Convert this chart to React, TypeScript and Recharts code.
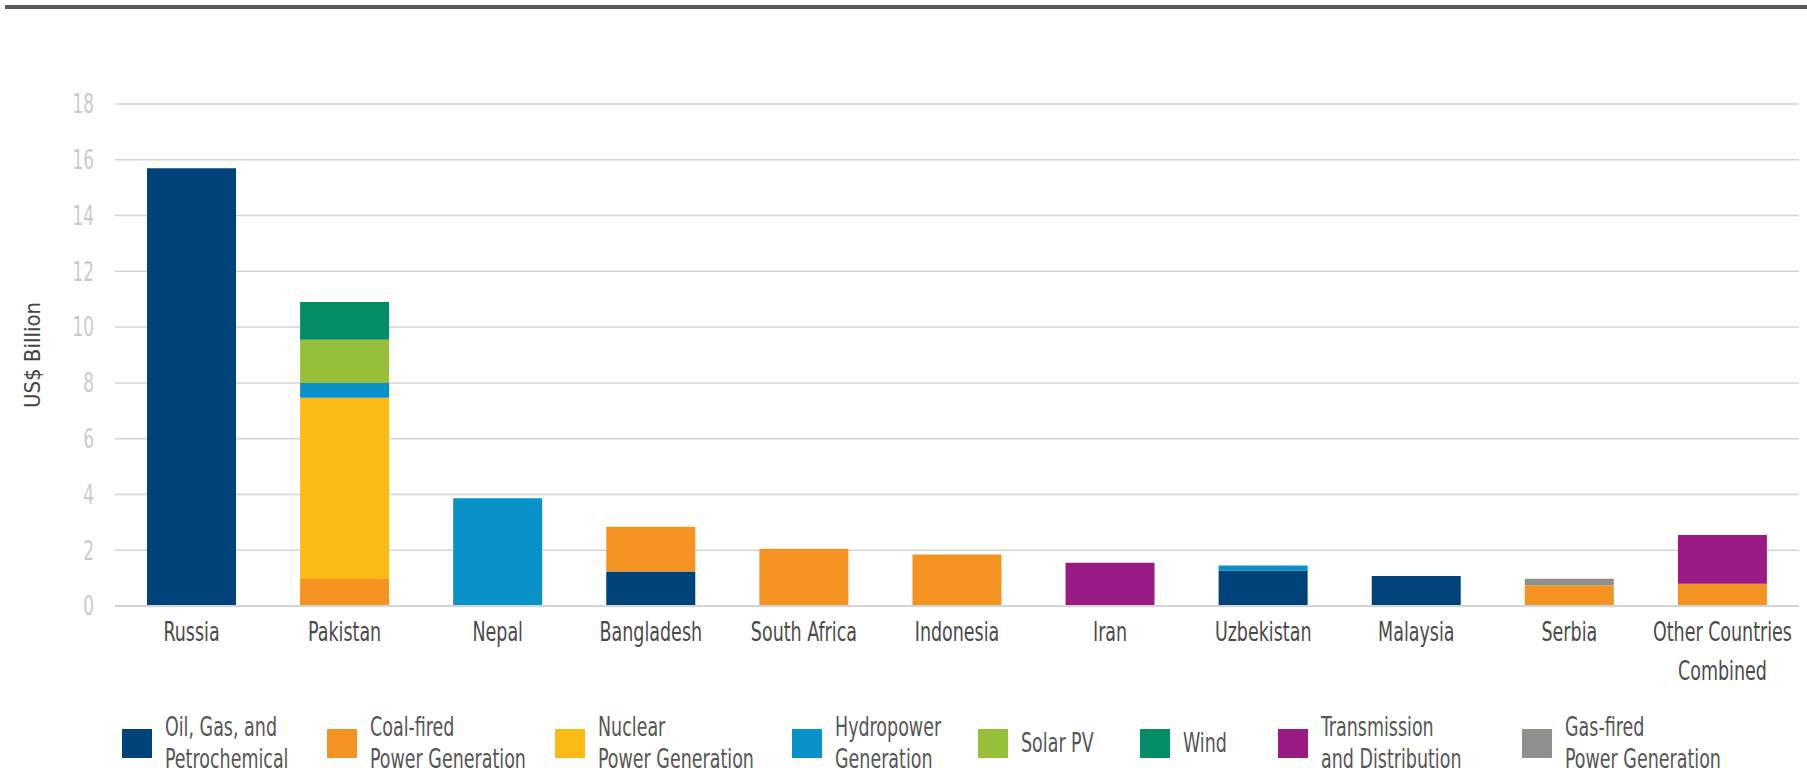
import React from "react";
import {
  Bar,
  BarChart,
  CartesianGrid,
  ReferenceLine,
  XAxis,
  YAxis,
} from "recharts";

const FONT = "'Liberation Sans Narrow', 'DejaVu Sans Condensed', 'Arial Narrow', sans-serif";
// horizontal squeeze to imitate the narrow face of the original
const SQUEEZE = 0.72;

const countries = [
  "Russia",
  "Pakistan",
  "Nepal",
  "Bangladesh",
  "South Africa",
  "Indonesia",
  "Iran",
  "Uzbekistan",
  "Malaysia",
  "Serbia",
  "Other Countries Combined",
];

// US$ billion per sector, same order as countries
const oilGas = [15.7, 0, 0, 1.24, 0, 0, 0, 1.27, 1.08, 0, 0];
const coalFired = [0, 0.97, 0, 1.6, 2.05, 1.85, 0, 0, 0, 0.74, 0.8];
const nuclear = [0, 6.5, 0, 0, 0, 0, 0, 0, 0, 0, 0];
const hydropower = [0, 0.53, 3.86, 0, 0, 0, 0, 0.18, 0, 0, 0];
const solarPV = [0, 1.55, 0, 0, 0, 0, 0, 0, 0, 0, 0];
const wind = [0, 1.35, 0, 0, 0, 0, 0, 0, 0, 0, 0];
const transmission = [0, 0, 0, 0, 0, 0, 1.55, 0, 0, 0, 1.75];
const gasFired = [0, 0, 0, 0, 0, 0, 0, 0, 0, 0.24, 0];

const yTicks = [0, 2, 4, 6, 8, 10, 12, 14, 16, 18];

const series = [
  { key: "oil", label: ["Oil, Gas, and", "Petrochemical"], color: "#00427a", values: oilGas },
  { key: "coal", label: ["Coal-fired", "Power Generation"], color: "#f49321", values: coalFired },
  { key: "nuclear", label: ["Nuclear", "Power Generation"], color: "#fbba16", values: nuclear },
  { key: "hydro", label: ["Hydropower", "Generation"], color: "#0892c8", values: hydropower },
  { key: "solar", label: ["Solar PV"], color: "#98bf3a", values: solarPV },
  { key: "wind", label: ["Wind"], color: "#058c66", values: wind },
  { key: "td", label: ["Transmission", "and Distribution"], color: "#9b1b84", values: transmission },
  { key: "gas", label: ["Gas-fired", "Power Generation"], color: "#8f8f8c", values: gasFired },
];

// left edge of each legend swatch
const legendLeft = [122, 327, 555, 792, 978, 1140, 1278, 1522];

const data = countries.map((name, i) => {
  const row: Record<string, string | number> = { name };
  series.forEach(s => {
    row[s.key] = s.values[i];
  });
  return row;
});

const CountryTick = (props: any) => {
  const { x, y, payload } = props;
  const value: string = payload.value;
  const words = value.split(" ");
  const lines =
    value.length > 14
      ? [words.slice(0, -1).join(" "), words[words.length - 1]]
      : [value];
  return (
    <g transform={`translate(${x},${y})`}>
      <text
        x={0}
        y={0}
        transform={`scale(${SQUEEZE},1)`}
        textAnchor="middle"
        fill="#4a4a4a"
        fontSize={27}
        fontFamily={FONT}
      >
        {lines.map((line, i) => (
          <tspan key={i} x={0} dy={i === 0 ? 35 : 39}>
            {line}
          </tspan>
        ))}
      </text>
    </g>
  );
};

const ValueTick = (props: any) => {
  const { x, y, payload } = props;
  return (
    <g transform={`translate(${x},${y})`}>
      <text
        x={0}
        y={0}
        dy="0.36em"
        transform={`scale(${SQUEEZE},1)`}
        textAnchor="end"
        fill="#cacaca"
        fontSize={26}
        fontFamily={FONT}
      >
        {payload.value}
      </text>
    </g>
  );
};

const App = () => {
  return (
    <div
      style={{
        position: "absolute",
        left: 0,
        top: 0,
        width: 1807,
        height: 775,
        background: "#fff",
        overflow: "hidden",
        fontFamily: FONT,
      }}
    >
      <div
        style={{
          position: "absolute",
          left: 5,
          right: 0,
          top: 5,
          height: 4,
          background: "#595959",
        }}
      />
      <BarChart
        width={1807}
        height={775}
        data={data}
        margin={{ top: 104, right: 8, left: 0, bottom: 109 }}
      >
        <CartesianGrid vertical={false} stroke="#d4d4d4" strokeWidth={1.5} />
        <XAxis
          dataKey="name"
          height={60}
          axisLine={false}
          tickLine={false}
          tickSize={0}
          tickMargin={0}
          interval={0}
          tick={<CountryTick />}
        />
        <YAxis
          width={115}
          domain={[0, 18]}
          ticks={yTicks}
          axisLine={false}
          tickLine={false}
          tickSize={0}
          tickMargin={21}
          tick={<ValueTick />}
          label={{
            value: "US$ Billion",
            angle: -90,
            position: "center",
            dx: -25,
            fill: "#444",
            fontSize: 22,
            fontFamily: FONT,
          }}
        />
        {series.map(s => (
          <Bar
            key={s.key}
            dataKey={s.key}
            stackId="a"
            fill={s.color}
            barSize={89}
            isAnimationActive={false}
          />
        ))}
        <ReferenceLine y={0} stroke="#d0d4d8" strokeWidth={2} />
      </BarChart>
      {series.map((s, i) => (
        <div
          key={s.key}
          style={{
            position: "absolute",
            left: legendLeft[i],
            top: 710,
            height: 66,
            display: "flex",
            alignItems: "center",
            whiteSpace: "nowrap",
          }}
        >
          <div style={{ width: 30, height: 29, background: s.color, marginRight: 13, flex: "none" }} />
          <div
            style={{
              fontSize: 27,
              lineHeight: "32px",
              color: "#555",
              transform: `scaleX(${SQUEEZE})`,
              transformOrigin: "left center",
            }}
          >
            {s.label.map(l => (
              <div key={l}>{l}</div>
            ))}
          </div>
        </div>
      ))}
    </div>
  );
};

export default App;
